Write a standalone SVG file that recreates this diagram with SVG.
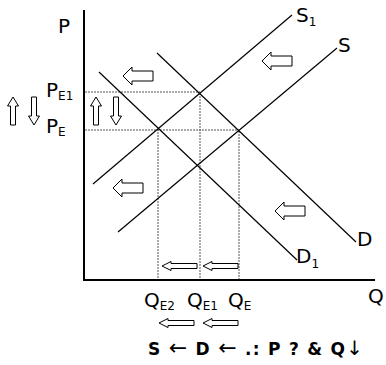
<svg xmlns="http://www.w3.org/2000/svg" width="386" height="365" viewBox="0 0 386 365">
<style>
.t{font-family:"DejaVu Sans","Liberation Sans",sans-serif;fill:#000}
.lab{font-size:20px}
.sub{font-size:12px}
.curve{stroke:#000;stroke-width:1.2;fill:none}
.axis{stroke:#000;stroke-width:2;fill:none}
.dot{stroke:#555;stroke-width:1;stroke-dasharray:2,1;fill:none}
.blk{fill:#fff;stroke:#000;stroke-width:1}
</style>
<defs>
<path id="bigL" d="M0,0 L9,-9 L9,-5 L30,-5 L30,5 L9,5 L9,9 Z"/>
<path id="smallL" d="M0,0 L9,-4.5 L9,-2.5 L35,-2.5 L35,2.5 L9,2.5 L9,4.5 Z"/>
<path id="up" d="M0,0 L-5.5,9 L-2.5,9 L-2.5,28 L2.5,28 L2.5,9 L5.5,9 Z"/>
<path id="down" d="M0,0 L-5.5,-9 L-2.5,-9 L-2.5,-28 L2.5,-28 L2.5,-9 L5.5,-9 Z"/>
</defs>
<g id="axes">
<line class="axis" x1="84" y1="10" x2="84" y2="281"/>
<line class="axis" x1="83" y1="280" x2="375" y2="280"/>
</g>
<g id="guides">
<line class="dot" x1="85" y1="92" x2="200" y2="92"/>
<line class="dot" x1="85" y1="130" x2="239" y2="130"/>
<line class="dot" x1="158" y1="129" x2="158" y2="279"/>
<line class="dot" x1="200" y1="93" x2="200" y2="279"/>
<line class="dot" x1="239" y1="131" x2="239" y2="279"/>
</g>
<g id="curves">
<line id="S1" class="curve" x1="93" y1="184" x2="292" y2="15"/>
<line id="S" class="curve" x1="118" y1="232" x2="337" y2="48"/>
<line id="D" class="curve" x1="157" y1="53" x2="356" y2="242"/>
<line id="D1" class="curve" x1="99" y1="72" x2="297" y2="260"/>
</g>
<g id="shift-arrows" class="blk">
<use href="#bigL" transform="translate(123,76)"/>
<use href="#bigL" transform="translate(262,61)"/>
<use href="#bigL" transform="translate(113,188)"/>
<use href="#bigL" transform="translate(275,211)"/>
<use href="#smallL" transform="translate(162,266)"/>
<use href="#smallL" transform="translate(203,266)"/>
<use href="#smallL" transform="translate(159,323)"/>
<use href="#smallL" transform="translate(203,323)"/>
<use href="#up" transform="translate(13,97)"/>
<use href="#down" transform="translate(34,125)"/>
<use href="#up" transform="translate(96,97)"/>
<use href="#down" transform="translate(116,125)"/>
</g>
<g id="labels" class="t">
<text class="lab" x="58" y="33">P</text>
<text class="lab" x="46" y="97">P<tspan class="sub" dy="3">E1</tspan></text>
<text class="lab" x="46" y="133">P<tspan class="sub" dy="3">E</tspan></text>
<text class="lab" x="296" y="22">S<tspan class="sub" dy="4">1</tspan></text>
<text class="lab" x="338" y="52">S</text>
<text class="lab" x="357" y="246">D</text>
<text class="lab" x="296" y="263">D<tspan class="sub" dy="5">1</tspan></text>
<text class="lab" x="368" y="303">Q</text>
<text class="lab" x="144" y="307">Q<tspan class="sub" dy="3">E2</tspan></text>
<text class="lab" x="187" y="307">Q<tspan class="sub" dy="3">E1</tspan></text>
<text class="lab" x="228" y="307">Q<tspan class="sub" dy="3">E</tspan></text>
<text x="148" y="355" font-size="17" font-weight="bold" textLength="215" lengthAdjust="spacing">S <tspan font-size="22" font-weight="normal">←</tspan> D <tspan font-size="22" font-weight="normal">←</tspan> .: P ? &amp; Q<tspan font-size="20" font-weight="normal">↓</tspan></text>
</g>
</svg>
